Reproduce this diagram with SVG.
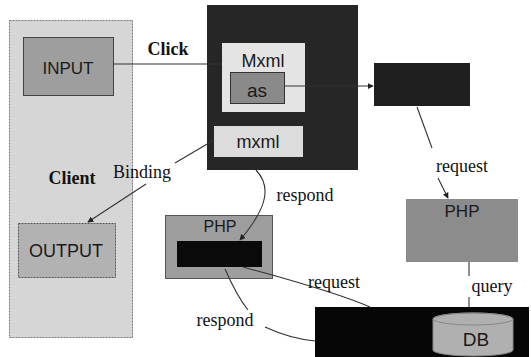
<svg xmlns="http://www.w3.org/2000/svg" width="531" height="357" viewBox="0 0 531 357">
<defs>
<style>
.lbl{font-family:"Liberation Serif","Times New Roman",serif;font-size:18px;fill:#111;}
.b{font-weight:bold;}
.box{font-family:"Liberation Sans",Arial,sans-serif;fill:#1a1a1a;text-anchor:middle;}
.ln{fill:none;stroke:#333;stroke-width:1.1;}
</style>
<marker id="ah" viewBox="0 0 8 8" refX="7" refY="4" markerWidth="6" markerHeight="6" orient="auto" markerUnits="userSpaceOnUse">
<path d="M0,0 L8,4 L0,8 z" fill="#222"/>
</marker>
</defs>
<rect width="531" height="357" fill="#ffffff"/>

<g id="client">
<rect x="9.5" y="20.5" width="123" height="317" fill="#d6d6d6" stroke="#777" stroke-dasharray="2 1"/>
<text class="lbl b" x="72" y="184" text-anchor="middle">Client</text>
</g>
<g id="input">
<rect x="23.5" y="37.5" width="90" height="58" fill="#9e9e9e" stroke="#444"/>
<text class="box" x="68" y="74" font-size="17">INPUT</text>
</g>
<g id="output">
<rect x="18.5" y="223.5" width="97" height="54" fill="#b2b2b2" stroke="#555" stroke-dasharray="2 1"/>
<text class="box" x="66" y="257" font-size="18">OUTPUT</text>
</g>

<g id="flex">
<rect x="207" y="5" width="151" height="165" fill="#262626"/>
</g>
<g id="mxml-top">
<rect x="222" y="43" width="83" height="69" fill="#e4e4e4"/>
<text class="box" x="263" y="67" font-size="18">Mxml</text>
</g>
<g id="as">
<rect x="230.5" y="72.5" width="54" height="31" fill="#8a8a8a" stroke="#333"/>
<text class="box" x="257" y="97" font-size="19">as</text>
</g>
<g id="mxml-bottom">
<rect x="214" y="126" width="89" height="31" fill="#dcdcdc"/>
<text class="box" x="258" y="148" font-size="18">mxml</text>
</g>

<g id="server">
<rect x="374" y="63" width="96" height="43" fill="#1e1e1e"/>
</g>
<g id="php-right">
<rect x="406" y="199" width="112" height="63" fill="#8c8c8c"/>
<text class="box" x="462" y="217" font-size="17">PHP</text>
</g>
<g id="php-left">
<rect x="165.5" y="215.5" width="107" height="63" fill="#9e9e9e" stroke="#555"/>
<text class="box" x="220" y="232" font-size="16">PHP</text>
<rect x="177" y="241" width="85" height="26" fill="#0a0a0a"/>
</g>
<g id="db">
<rect x="315" y="307" width="214" height="50" fill="#060606"/>
<path d="M433,319 A40,6 0 0,1 513,319 V350 A40,6 0 0,1 433,350 Z" fill="#b0b0b0" stroke="#888"/>
<ellipse cx="473" cy="319" rx="40" ry="6" fill="none" stroke="#888"/>
<text class="box" x="476" y="346" font-size="19">DB</text>
</g>

<g id="connectors">
<line class="ln" x1="113" y1="64" x2="222" y2="64"/>
<text class="lbl b" x="168" y="55" text-anchor="middle">Click</text>
<line class="ln" x1="284" y1="86" x2="373" y2="86" marker-end="url(#ah)"/>
<line class="ln" x1="417" y1="107" x2="432" y2="148"/>
<line class="ln" x1="438" y1="178" x2="448" y2="198" marker-end="url(#ah)"/>
<text class="lbl" x="462" y="172" text-anchor="middle">request</text>
<line class="ln" x1="469" y1="262" x2="469" y2="276"/>
<line class="ln" x1="469" y1="297" x2="469" y2="307"/>
<text class="lbl" x="492" y="292" text-anchor="middle">query</text>
<line class="ln" x1="214" y1="140" x2="175" y2="163"/>
<line class="ln" x1="146" y1="184" x2="88" y2="222" marker-end="url(#ah)"/>
<text class="lbl" x="142" y="178" text-anchor="middle">Binding</text>
<path class="ln" d="M256,170 C270,185 270,205 240,240" marker-end="url(#ah)"/>
<text class="lbl" x="305" y="201" text-anchor="middle">respond</text>
<path class="ln" d="M243,267 C275,276 330,290 370,307"/>
<text class="lbl" x="334" y="288" text-anchor="middle">request</text>
<path class="ln" d="M225,269 C232,285 240,300 248,310"/>
<path class="ln" d="M265,327 C280,334 295,339 315,341"/>
<text class="lbl" x="225" y="326" text-anchor="middle">respond</text>
</g>
</svg>
